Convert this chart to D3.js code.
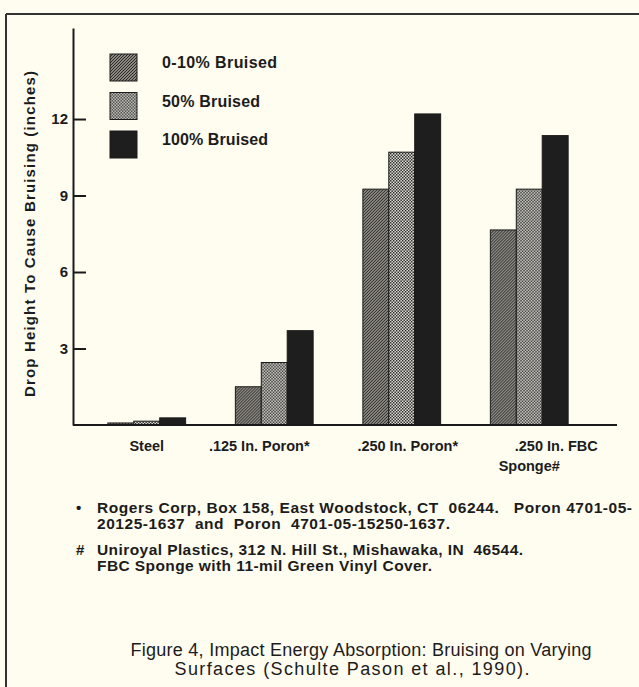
<!DOCTYPE html>
<html>
<head>
<meta charset="utf-8">
<script src="https://cdn.jsdelivr.net/npm/d3@7"></script>
<style>
  body { margin: 0; background: #fffdf0; }
  svg { display: block; }
  text { font-family: "Liberation Sans", Arial, Helvetica, sans-serif; fill: #1c1c1c; }
</style>
</head>
<body>
<svg></svg>
<script>
const width = 639;
const height = 687;

// data
const categories = ["Steel", ".125 In. Poron*", ".250 In. Poron*", ".250 In. FBC|Sponge#"];
const seriesNames = ["0-10% Bruised", "50% Bruised", "100% Bruised"];
const bruise0to10 = [0.08, 1.5, 9.25, 7.65];
const bruise50 = [0.15, 2.45, 10.7, 9.25];
const bruise100 = [0.28, 3.7, 12.2, 11.35];
const yTicks = [3, 6, 9, 12];
const notes = [
  ["\u2022", ["Rogers Corp, Box 158, East Woodstock, CT  06244.   Poron 4701-05-", "20125-1637  and  Poron  4701-05-15250-1637."]],
  ["#", ["Uniroyal Plastics, 312 N. Hill St., Mishawaka, IN  46544.", "FBC Sponge with 11-mil Green Vinyl Cover."]]
];
const caption = ["Figure 4, Impact Energy Absorption: Bruising on Varying", "Surfaces (Schulte Pason et al., 1990)."];

const series = [bruise0to10, bruise50, bruise100];
const rows = categories.map((c, i) => ({cat: c, values: series.map((s, j) => ({key: j, value: s[i]}))}));

let svg = d3.select("svg")
  .attr("width", width)
  .attr("height", height);

// patterns
let defs = svg.append("defs");
let hatch = defs.append("pattern")
  .attr("id", "hatch")
  .attr("patternUnits", "userSpaceOnUse")
  .attr("width", 3).attr("height", 3);
hatch.append("rect").attr("width", 3).attr("height", 3).attr("fill", "#b3b0a6");
hatch.append("path")
  .attr("d", "M-1,1 L1,-1 M0,3 L3,0 M2,4 L4,2")
  .attr("stroke", "#222").attr("stroke-width", 1.1);

let check = defs.append("pattern")
  .attr("id", "check")
  .attr("patternUnits", "userSpaceOnUse")
  .attr("width", 3).attr("height", 3);
check.append("rect").attr("width", 3).attr("height", 3).attr("fill", "#ecebe2");
check.append("rect").attr("width", 1.5).attr("height", 1.5).attr("fill", "#222");
check.append("rect").attr("x", 1.5).attr("y", 1.5).attr("width", 1.5).attr("height", 1.5).attr("fill", "#222");

const fills = ["url(#hatch)", "url(#check)", "#1e1e1e"];

// frame
svg.append("line").attr("x1", 6).attr("x2", width).attr("y1", 14).attr("y2", 14)
  .attr("stroke", "#333").attr("stroke-width", 2);
svg.append("line").attr("x1", 6).attr("x2", 6).attr("y1", 14).attr("y2", height)
  .attr("stroke", "#333").attr("stroke-width", 2);

// scales
let xScale = d3.scaleBand()
  .domain(categories)
  .range([83, 593])
  .paddingInner(0.39)
  .paddingOuter(0.195);
let xSub = d3.scaleBand()
  .domain([0, 1, 2])
  .range([0, xScale.bandwidth()]);
let yScale = d3.scaleLinear()
  .domain([0, 15.57])
  .range([425, 28]);

// bars
let groups = svg.selectAll("g.group")
  .data(rows)
  .enter()
  .append("g")
    .attr("class", "group")
    .attr("transform", d => `translate(${xScale(d.cat)},0)`);
groups.selectAll("rect")
  .data(d => d.values)
  .enter()
  .append("rect")
    .attr("x", d => xSub(d.key))
    .attr("y", d => yScale(d.value))
    .attr("width", xSub.bandwidth())
    .attr("height", d => yScale(0) - yScale(d.value))
    .attr("fill", d => fills[d.key])
    .attr("stroke", "#1a1a1a")
    .attr("stroke-width", 1);

// y axis
let yAxis = d3.axisRight(yScale)
  .tickValues(yTicks)
  .tickSize(13)
  .tickSizeOuter(0)
  .tickFormat(d3.format("d"));
let yG = svg.append("g")
  .attr("transform", "translate(73,0)")
  .call(yAxis);
yG.select(".domain").attr("stroke", "#1a1a1a").attr("stroke-width", 2);
yG.selectAll(".tick line").attr("stroke", "#1a1a1a").attr("stroke-width", 2);
yG.selectAll(".tick text")
  .attr("x", -5)
  .attr("text-anchor", "end")
  .style("font-size", "15px")
  .style("font-weight", "bold");

// x baseline
svg.append("line")
  .attr("x1", 73).attr("x2", 617)
  .attr("y1", yScale(0)).attr("y2", yScale(0))
  .attr("stroke", "#1a1a1a").attr("stroke-width", 2);

// category labels
const labelShift = {".125 In. Poron*": -15, ".250 In. Poron*": 6};
categories.forEach(c => {
  let lines = c.split("|");
  let cx = xScale(c) + xScale.bandwidth() / 2;
  lines.forEach((l, i) => {
    let dx = lines.length > 1 && i === 0 ? 27 : (labelShift[c] || 0);
    svg.append("text")
      .attr("x", cx + dx)
      .attr("y", 451 + i * 20)
      .attr("text-anchor", "middle")
      .style("font-size", "14.5px")
      .style("font-weight", "bold")
      .text(l);
  });
});

// y label
svg.append("text")
  .attr("transform", "translate(35,234) rotate(-90)")
  .attr("text-anchor", "middle")
  .attr("textLength", 326)
  .attr("lengthAdjust", "spacing")
  .style("font-size", "15px")
  .style("font-weight", "bold")
  .text("Drop Height To Cause Bruising (inches)");

// legend
const legendLen = [115, 98, 106];
let legend = svg.selectAll("g.legend")
  .data(seriesNames)
  .enter()
  .append("g")
    .attr("class", "legend")
    .attr("transform", (d, i) => `translate(110,${54 + i * 38.5})`);
legend.append("rect")
  .attr("width", 27).attr("height", 27)
  .attr("fill", (d, i) => fills[i])
  .attr("stroke", "#1a1a1a").attr("stroke-width", 1);
legend.append("text")
  .attr("x", 52).attr("y", 14)
  .attr("textLength", (d, i) => legendLen[i])
  .attr("lengthAdjust", "spacing")
  .style("font-size", "16px")
  .style("font-weight", "bold")
  .text(d => d);

// footnotes
const noteLen = [[535, 353], [426, 335]];
notes.forEach((n, i) => {
  let y0 = 513 + i * 42;
  svg.append("text")
    .attr("x", 76).attr("y", y0)
    .style("font-size", "15px").style("font-weight", "bold")
    .text(n[0]);
  n[1].forEach((l, j) => {
    svg.append("text")
      .attr("x", 97).attr("y", y0 + j * 15.5)
      .attr("textLength", noteLen[i][j])
      .attr("lengthAdjust", "spacing")
      .style("font-size", "15.5px").style("font-weight", "bold")
      .style("white-space", "pre")
      .text(l);
  });
});

// caption
const capLen = [461, 355];
caption.forEach((l, i) => {
  svg.append("text")
    .attr("x", i === 0 ? 361 : 352).attr("y", 656 + i * 19)
    .attr("text-anchor", "middle")
    .attr("textLength", capLen[i])
    .attr("lengthAdjust", "spacing")
    .style("font-size", "18px")
    .text(l);
});
</script>
</body>
</html>
